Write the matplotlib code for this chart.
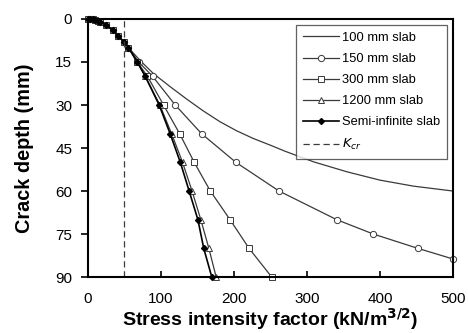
import matplotlib
matplotlib.use("Agg")
import matplotlib.pyplot as plt

plt.rcParams["font.family"] = ["Liberation Sans", "DejaVu Sans"]

# shared shallow part of all curves (depth mm, K kN/m^1.5)
top_depth = [0, 0.05, 0.1, 0.3, 0.7, 1, 2, 4, 6, 8, 10]
top_k = [0, 3, 7, 10, 14, 17, 25, 35, 42, 50, 56]

slab100_depth = top_depth + [14.5, 19, 23.6, 28, 32, 35.8, 39, 41.7, 44, 46.1,
                             49.8, 53.3, 56.2, 58.3, 60]
slab100_k = top_k + [72, 90, 113, 136, 158, 181, 204, 227, 250, 270,
                     309, 355, 400, 446, 500]

slab150_depth = top_depth + [15, 20, 30, 40, 50, 60, 70, 75, 80, 83.7]
slab150_k = top_k + [70, 89, 120, 156, 203, 262, 341, 391, 452, 500]

slab300_depth = top_depth + [15, 20, 30, 40, 50, 60, 70, 80, 90]
slab300_k = top_k + [68, 82, 104, 126, 146, 168, 195, 221, 252]

slab1200_depth = top_depth + [15, 20, 30, 40, 50, 60, 70, 80, 90]
slab1200_k = top_k + [68, 79, 99, 115, 130, 143, 155, 166, 176]

semi_depth = top_depth + [15, 20, 30, 40, 50, 60, 70, 80, 90]
semi_k = top_k + [68, 79, 98, 113, 127, 139, 151, 159, 170]

k_cr = 50

fig = plt.figure(figsize=(4.68, 3.33), dpi=100)
ax = fig.add_axes([0.187, 0.168, 0.781, 0.775])

grey = "#3a3a3a"
ax.plot(slab100_k, slab100_depth, color=grey, lw=0.9, label="100 mm slab")
ax.plot(slab150_k, slab150_depth, color=grey, lw=0.9, marker="o", ms=4.5,
        mfc="white", mec=grey, mew=0.7, label="150 mm slab", clip_on=False)
ax.plot(slab300_k, slab300_depth, color=grey, lw=0.9, marker="s", ms=4.5,
        mfc="white", mec=grey, mew=0.7, label="300 mm slab", clip_on=False)
ax.plot(slab1200_k, slab1200_depth, color=grey, lw=0.9, marker="^", ms=4,
        mfc="white", mec=grey, mew=0.7, label="1200 mm slab", clip_on=False)
ax.plot(semi_k, semi_depth, color="black", lw=1.2, marker="D", ms=3,
        mfc="black", mec="black", label="Semi-infinite slab", clip_on=False)
ax.axvline(k_cr, color=grey, lw=0.9, ls=(0, (5, 3)), label=r"$K_{cr}$")

ax.set_xlim(0, 500)
ax.set_ylim(90, 0)
ax.set_xticks(range(0, 501, 100))
ax.set_yticks(range(0, 91, 15))
ax.tick_params(axis="x", direction="in", length=4, width=1.2, labelsize=11, pad=11)
ax.tick_params(axis="y", direction="out", length=5, width=1.2, labelsize=11, pad=6)
for s in ax.spines.values():
    s.set_linewidth(1.5)

ax.set_xlabel("Stress intensity factor (kN/m$^{\\mathbf{3/2}}$)",
              fontsize=14, fontweight="bold", labelpad=0)
ax.set_ylabel("Crack depth (mm)", fontsize=14.3, fontweight="bold", labelpad=15)

leg = ax.legend(loc="upper right", fontsize=9.3, frameon=True, fancybox=False,
                edgecolor=grey, handlelength=2.8, borderaxespad=0.5,
                labelspacing=0.7, handletextpad=0.25, borderpad=0.5)
leg.get_frame().set_linewidth(0.9)

fig.savefig("out.png", dpi=100, facecolor="white")
